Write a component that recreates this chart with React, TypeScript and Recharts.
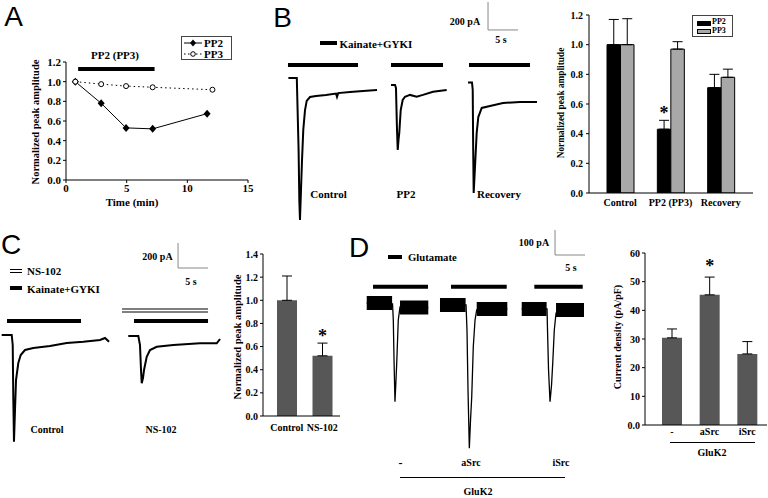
import React from 'react';
import { LineChart, Line, XAxis, YAxis, ReferenceLine, BarChart, Bar, ErrorBar, LabelList } from 'recharts';

const SERIF = '"Liberation Serif", "Times New Roman", serif';
const SANS = '"Liberation Sans", Arial, sans-serif';

// ---------- Panel A: time course ----------
const aTimePP2 = [0.77, 2.9, 4.95, 7.14, 11.63];
const aValPP2 = [1.0, 0.78, 0.53, 0.52, 0.675];
const aTimePP3 = [0.77, 2.9, 4.95, 7.14, 12.07];
const aValPP3 = [1.0, 0.975, 0.955, 0.943, 0.918];
const aXTicks = [0, 5, 10, 15];
const aYTicks = [0, 0.2, 0.4, 0.6, 0.8, 1.0, 1.2];
const aDrugStart = 1.0;
const aDrugEnd = 7.3;
const aDrugLevel = 1.13;

// ---------- Panel B: traces (t in s, i in pA) ----------
const bControlTrace = [
  { t: 1.4, i: 0 }, { t: 2.8, i: 0 }, { t: 3.1, i: -514 }, { t: 3.22, i: -871 }, { t: 3.33, i: -1014 },
  { t: 3.5, i: -800 }, { t: 3.67, i: -586 }, { t: 3.88, i: -371 }, { t: 4.17, i: -229 }, { t: 4.45, i: -164 },
  { t: 5.0, i: -136 }, { t: 6.0, i: -129 }, { t: 7.67, i: -121 }, { t: 9.33, i: -111 }, { t: 9.5, i: -135 },
  { t: 9.7, i: -108 }, { t: 11.67, i: -100 }, { t: 13.83, i: -93 }, { t: 16.17, i: -86 },
];
const bPP2Trace = [
  { t: 18.5, i: -50 }, { t: 19.17, i: -50 }, { t: 19.33, i: -71 }, { t: 19.5, i: -371 }, { t: 19.62, i: -514 },
  { t: 19.75, i: -443 }, { t: 19.88, i: -393 }, { t: 20.12, i: -229 }, { t: 20.45, i: -157 }, { t: 20.83, i: -134 },
  { t: 21.67, i: -121 }, { t: 22.78, i: -134 }, { t: 23.83, i: -121 }, { t: 25.5, i: -98 }, { t: 27.78, i: -86 },
];
const bRecoveryTrace = [
  { t: 31.33, i: -32 }, { t: 32.0, i: -32 }, { t: 32.12, i: -86 }, { t: 32.2, i: -514 }, { t: 32.28, i: -821 },
  { t: 32.5, i: -636 }, { t: 32.78, i: -393 }, { t: 33.05, i: -279 }, { t: 33.62, i: -214 }, { t: 35.0, i: -200 },
  { t: 37.17, i: -179 }, { t: 40.0, i: -171 }, { t: 42.83, i: -171 },
];
const bApplications = [[1.33, 13.0], [18.5, 27.17], [31.5, 41.67]];
const bApplicationLevel = 93;

// ---------- Panel B: bar chart ----------
const bCategories = ['Control', 'PP2 (PP3)', 'Recovery'];
const bPP2 = [1.0, 0.43, 0.71];
const bPP2Err = [0.17, 0.06, 0.09];
const bPP3 = [1.0, 0.97, 0.78];
const bPP3Err = [0.175, 0.05, 0.055];
const bSig = [false, true, false];
const bYTicks = [0, 0.2, 0.4, 0.6, 0.8, 1.0, 1.2];

// ---------- Panel C: traces ----------
const cControlTrace = [
  { t: 0.28, i: 0 }, { t: 1.95, i: 0 }, { t: 2.12, i: -80 }, { t: 2.22, i: -520 }, { t: 2.33, i: -854 },
  { t: 2.5, i: -600 }, { t: 2.67, i: -360 }, { t: 3.05, i: -224 }, { t: 3.45, i: -160 }, { t: 4.17, i: -120 },
  { t: 5.55, i: -104 }, { t: 8.33, i: -88 }, { t: 11.12, i: -64 }, { t: 13.88, i: -54 }, { t: 16.67, i: -40 },
  { t: 17.5, i: -24 }, { t: 18.17, i: -54 },
];
const cNSTrace = [
  { t: 21.38, i: -8 }, { t: 23.05, i: -8 }, { t: 23.33, i: -80 }, { t: 23.5, i: -280 }, { t: 23.62, i: -386 },
  { t: 23.83, i: -344 }, { t: 24.0, i: -280 }, { t: 24.45, i: -174 }, { t: 25.0, i: -120 }, { t: 26.12, i: -94 },
  { t: 28.88, i: -80 }, { t: 33.33, i: -66 }, { t: 36.12, i: -66 }, { t: 36.67, i: -32 },
];
const cApplications = [[1.17, 13.5], [22.33, 34.67]];
const cApplicationLevel = 112;
const cNSWindow = [20.33, 34.67];
const cNSLevels = [208, 184];

// ---------- Panel C: bar chart ----------
const cCategories = ['Control', 'NS-102'];
const cValues = [1.0, 0.52];
const cErr = [0.21, 0.11];
const cSig = [false, true];
const cYTicks = [0, 0.2, 0.4, 0.6, 0.8, 1.0, 1.2, 1.4];

// ---------- Panel D: traces ----------
const dTrace1 = [
  { t: 1.12, i: 4 }, { t: 5.42, i: 0 }, { t: 5.55, i: -64 }, { t: 5.67, i: -224 }, { t: 5.83, i: -391 },
  { t: 6.0, i: -304 }, { t: 6.12, i: -236 }, { t: 6.38, i: -64 }, { t: 6.67, i: -12 }, { t: 11.38, i: -14 },
];
const dTrace1Noise = [{ t: 1.12, i: 4 }, { t: 5.35, i: 4 }, { t: 6.0, i: null }, { t: 6.67, i: -14 }, { t: 11.38, i: -14 }];
const dTrace2 = [
  { t: 13.33, i: -4 }, { t: 17.67, i: -4 }, { t: 17.83, i: -104 }, { t: 18.0, i: -344 }, { t: 18.22, i: -577 },
  { t: 18.42, i: -464 }, { t: 18.62, i: -371 }, { t: 18.88, i: -171 }, { t: 19.17, i: -64 }, { t: 19.45, i: -24 },
  { t: 24.55, i: -20 },
];
const dTrace2Noise = [{ t: 13.33, i: -4 }, { t: 17.6, i: -4 }, { t: 18.5, i: null }, { t: 19.45, i: -20 }, { t: 24.55, i: -20 }];
const dTrace3 = [
  { t: 26.95, i: -20 }, { t: 31.17, i: -20 }, { t: 31.25, i: -104 }, { t: 31.42, i: -264 }, { t: 31.67, i: -391 },
  { t: 31.92, i: -324 }, { t: 32.12, i: -236 }, { t: 32.38, i: -104 }, { t: 32.67, i: -36 }, { t: 37.33, i: -24 },
];
const dTrace3Noise = [{ t: 26.95, i: -20 }, { t: 31.1, i: -20 }, { t: 31.9, i: null }, { t: 32.67, i: -24 }, { t: 37.33, i: -24 }];
const dApplications = [[2.17, 11.33], [15.17, 24.45], [29.05, 37.12]];
const dApplicationLevel = 69;

// ---------- Panel D: bar chart ----------
const dCategories = ['-', 'aSrc', 'iSrc'];
const dValues = [30.4, 45.4, 24.8];
const dErr = [3.1, 6.2, 4.3];
const dSig = [false, true, false];
const dYTicks = [0, 10, 20, 30, 40, 50, 60];

// ---------- helpers ----------
const tick = (size: number) => ({ fontSize: size, fontWeight: 'bold', fill: '#000', fontFamily: SERIF });

const T = ({ x, y, children, size = 11, anchor = 'middle', family = SERIF, weight = 'bold' }: any) => (
  <div
    style={{
      position: 'absolute', left: x, top: y, whiteSpace: 'nowrap', lineHeight: 1,
      transform: `translate(${anchor === 'middle' ? '-50%' : anchor === 'end' ? '-100%' : '0'}, -50%)`,
      fontSize: size, fontWeight: weight, fontFamily: family, color: '#000',
    }}
  >
    {children}
  </div>
);

const VT = ({ x, y, children, size = 10 }: any) => (
  <div
    style={{
      position: 'absolute', left: x, top: y, whiteSpace: 'nowrap', lineHeight: 1,
      transform: 'translate(-50%, -50%) rotate(-90deg)',
      fontSize: size, fontWeight: 'bold', fontFamily: SERIF, color: '#000',
    }}
  >
    {children}
  </div>
);

const HBar = ({ x1, x2, y, h = 4 }: any) => (
  <div style={{ position: 'absolute', left: x1, top: y - h / 2, width: x2 - x1, height: h, background: '#000' }} />
);

const Diamond = (p: any) => (
  <path
    key={`dm${p.index}`}
    d={`M${p.cx} ${p.cy - 4}L${p.cx + 3.5} ${p.cy}L${p.cx} ${p.cy + 4}L${p.cx - 3.5} ${p.cy}Z`}
    fill="#000"
  />
);

const starLabel = (vals: number[], errs: number[], sig: boolean[], dy: number) => (props: any) => {
  const { x, y, width, height, value } = props;
  let idx = props.index;
  if (idx === undefined || idx === null) idx = vals.indexOf(value);
  if (!sig[idx]) return null;
  const ppu = Number(height) / Number(value);
  const top = Number(y) - errs[idx] * ppu;
  return (
    <text
      key={`st${idx}`}
      x={Number(x) + Number(width) / 2}
      y={top - dy}
      textAnchor="middle"
      fontFamily={SERIF}
      fontWeight="bold"
      fontSize={18}
      fill="#000"
    >
      *
    </text>
  );
};

function TraceChart({ left, top, width, height, xMax, yDomain, traces, noise, traceWidth, apps, appLevel, extra, scale }: any) {
  return (
    <div style={{ position: 'absolute', left, top }}>
      <LineChart width={width} height={height} margin={{ top: 0, right: 0, bottom: 0, left: 0 }}>
        <XAxis type="number" dataKey="t" domain={[0, xMax]} hide allowDataOverflow />
        <YAxis type="number" domain={yDomain} hide allowDataOverflow />
        {apps.map((a: number[], k: number) => (
          <ReferenceLine key={`ap${k}`} segment={[{ x: a[0], y: appLevel }, { x: a[1], y: appLevel }]} stroke="#000" strokeWidth={4} />
        ))}
        {extra}
        <ReferenceLine segment={[{ x: scale.t, y: scale.i }, { x: scale.t, y: scale.i + scale.di }]} stroke="#888" strokeWidth={1} />
        <ReferenceLine segment={[{ x: scale.t, y: scale.i }, { x: scale.t + scale.dt, y: scale.i }]} stroke="#888" strokeWidth={1} />
        {noise &&
          noise.map((n: any[], k: number) => (
            <Line key={`nz${k}`} data={n} dataKey="i" type="linear" stroke="#000" strokeWidth={14} strokeLinecap="butt" dot={false} isAnimationActive={false} connectNulls={false} />
          ))}
        {traces.map((tr: any[], k: number) => (
          <Line key={`tr${k}`} data={tr} dataKey="i" type="linear" stroke="#000" strokeWidth={traceWidth} dot={false} isAnimationActive={false} />
        ))}
      </LineChart>
    </div>
  );
}

export default function App() {
  const aPP2Data = aTimePP2.map((t, k) => ({ t, v: aValPP2[k] }));
  const aPP3Data = aTimePP3.map((t, k) => ({ t, v: aValPP3[k] }));
  const bBarData = bCategories.map((c, k) => ({ c, pp2: bPP2[k], pp2e: [0, bPP2Err[k]], pp3: bPP3[k], pp3e: [0, bPP3Err[k]] }));
  const cBarData = cCategories.map((c, k) => ({ c, v: cValues[k], e: [0, cErr[k]] }));
  const dBarData = dCategories.map((c, k) => ({ c, v: dValues[k], e: [0, dErr[k]] }));
  const axisLine = { stroke: '#000', strokeWidth: 1 };

  return (
    <div style={{ position: 'absolute', left: 0, top: 0, width: 768, height: 498, background: '#fff', overflow: 'hidden' }}>
      {/* ---------------- A ---------------- */}
      <T x={13.5} y={17} size={28} family={SANS} weight="normal">A</T>
      <div style={{ position: 'absolute', left: 0, top: 0 }}>
        <LineChart width={260} height={215} margin={{ top: 62, right: 12, left: 0, bottom: 0 }}>
          <XAxis type="number" dataKey="t" domain={[0, 15]} ticks={aXTicks} height={35} tickSize={3} tickMargin={1} tick={tick(11)} axisLine={axisLine} tickLine={axisLine} />
          <YAxis type="number" domain={[0, 1.2]} ticks={aYTicks} width={66} tickSize={3} tickMargin={2} tick={tick(11)} tickFormatter={(v: number) => v.toFixed(1)} axisLine={axisLine} tickLine={axisLine} allowDataOverflow />
          <ReferenceLine segment={[{ x: aDrugStart, y: aDrugLevel }, { x: aDrugEnd, y: aDrugLevel }]} stroke="#000" strokeWidth={4} />
          <Line data={aPP2Data} dataKey="v" type="linear" stroke="#000" strokeWidth={1} dot={Diamond} isAnimationActive={false} />
          <Line data={aPP3Data} dataKey="v" type="linear" stroke="#000" strokeWidth={1} strokeDasharray="1.5 3" dot={{ r: 2.5, fill: '#fff', stroke: '#000', strokeWidth: 1, strokeDasharray: '' }} isAnimationActive={false} />
        </LineChart>
      </div>
      <T x={115} y={55} size={11}>PP2 (PP3)</T>
      <T x={132} y={202} size={11}>Time (min)</T>
      <VT x={36} y={122} size={10.5}>Normalized peak amplitude</VT>
      <div style={{ position: 'absolute', left: 181, top: 36, width: 51, height: 24, border: '1px solid #444', boxSizing: 'border-box' }}>
        <svg width={22} height={22} style={{ position: 'absolute', left: 1, top: 0 }}>
          <line x1={1} y1={6} x2={19} y2={6} stroke="#000" strokeWidth={1} />
          <path d="M10 2.5L13 6L10 9.5L7 6Z" fill="#000" />
          <line x1={1} y1={17} x2={19} y2={17} stroke="#000" strokeWidth={1} strokeDasharray="1.5 2.5" />
          <circle cx={10} cy={17} r={2.3} fill="#fff" stroke="#000" />
        </svg>
      </div>
      <T x={204} y={42.5} size={11} anchor="start">PP2</T>
      <T x={204} y={54} size={11} anchor="start">PP3</T>

      {/* ---------------- B ---------------- */}
      <T x={282.5} y={17.5} size={28} family={SANS} weight="normal">B</T>
      <TraceChart
        left={280} top={0} width={258} height={230} xMax={43} yDomain={[-1086, 557]}
        traces={[bControlTrace, bPP2Trace, bRecoveryTrace]} traceWidth={2}
        apps={bApplications} appLevel={bApplicationLevel}
        scale={{ t: 34.67, i: 343, di: 200, dt: 5 }}
      />
      <T x={465} y={22} size={10}>200 pA</T>
      <T x={501} y={40} size={10}>5 s</T>
      <HBar x1={320} x2={337} y={43.3} />
      <T x={339.5} y={43.5} size={11} anchor="start">Kainate+GYKI</T>
      <T x={328.5} y={194} size={11}>Control</T>
      <T x={406} y={194} size={11}>PP2</T>
      <T x={477} y={194} size={11} anchor="start">Recovery</T>

      <div style={{ position: 'absolute', left: 520, top: 0 }}>
        <BarChart width={248} height={215} data={bBarData} margin={{ top: 15, right: 15, left: 0, bottom: 0 }} barGap={0} barSize={13.5}>
          <XAxis dataKey="c" height={22} interval={0} tickLine={false} tickSize={0} tickMargin={6} padding={{ left: 6, right: 7 }} tick={tick(10)} axisLine={axisLine} />
          <YAxis type="number" domain={[0, 1.2]} ticks={bYTicks} width={69} tickSize={3} tickMargin={3} tick={tick(10)} tickFormatter={(v: number) => v.toFixed(1)} axisLine={axisLine} tickLine={axisLine} allowDataOverflow />
          <Bar dataKey="pp2" fill="#000" stroke="#000" strokeWidth={1} isAnimationActive={false}>
            <ErrorBar dataKey="pp2e" width={5} stroke="#000" strokeWidth={1} />
            <LabelList dataKey="pp2" content={starLabel(bPP2, bPP2Err, bSig, 1)} />
          </Bar>
          <Bar dataKey="pp3" fill="#a8a8a8" stroke="#000" strokeWidth={1} isAnimationActive={false}>
            <ErrorBar dataKey="pp3e" width={5} stroke="#000" strokeWidth={1} />
          </Bar>
        </BarChart>
      </div>
      <VT x={562} y={103} size={9.3}>Normalized peak amplitude</VT>
      <div style={{ position: 'absolute', left: 692, top: 15, width: 41, height: 22, border: '1px solid #444', boxSizing: 'border-box' }}>
        <div style={{ position: 'absolute', left: 4, top: 5, width: 12, height: 3, background: '#000', border: '1px solid #000' }} />
        <div style={{ position: 'absolute', left: 4, top: 13, width: 12, height: 3, background: '#a8a8a8', border: '1px solid #000' }} />
      </div>
      <T x={712} y={22} size={8} anchor="start">PP2</T>
      <T x={712} y={31} size={8} anchor="start">PP3</T>

      {/* ---------------- C ---------------- */}
      <T x={11} y={245} size={28} family={SANS} weight="normal">C</T>
      <TraceChart
        left={0} top={230} width={230} height={230} xMax={38.33} yDomain={[-1000, 840]}
        traces={[cControlTrace, cNSTrace]} traceWidth={2}
        apps={cApplications} appLevel={cApplicationLevel}
        extra={cNSLevels.map((lv, k) => (
          <ReferenceLine key={`ns${k}`} segment={[{ x: cNSWindow[0], y: lv }, { x: cNSWindow[1], y: lv }]} stroke="#000" strokeWidth={1.2} />
        ))}
        scale={{ t: 29.67, i: 536, di: 200, dt: 5 }}
      />
      <div style={{ position: 'absolute', left: 10, top: 268.5, width: 12, height: 2, borderTop: '1.2px solid #000', borderBottom: '1.2px solid #000' }} />
      <T x={27} y={270.7} size={11} anchor="start">NS-102</T>
      <HBar x1={10} x2={22} y={288.3} />
      <T x={27} y={288.5} size={11} anchor="start">Kainate+GYKI</T>
      <T x={157.5} y={256.7} size={10}>200 pA</T>
      <T x={191} y={281.7} size={10}>5 s</T>
      <T x={47} y={430} size={10}>Control</T>
      <T x={161} y={430} size={10}>NS-102</T>

      <div style={{ position: 'absolute', left: 200, top: 230 }}>
        <BarChart width={150} height={215} data={cBarData} margin={{ top: 24, right: 10, left: 0, bottom: 0 }} barSize={20}>
          <XAxis dataKey="c" height={29} interval={0} tickLine={false} tickSize={0} tickMargin={8} padding={{ left: 6, right: 0 }} tick={tick(10)} axisLine={axisLine} />
          <YAxis type="number" domain={[0, 1.4]} ticks={cYTicks} width={63} tickSize={3} tickMargin={2} tick={tick(10)} tickFormatter={(v: number) => v.toFixed(1)} axisLine={axisLine} tickLine={axisLine} allowDataOverflow />
          <Bar dataKey="v" fill="#575757" isAnimationActive={false}>
            <ErrorBar dataKey="e" width={5} stroke="#000" strokeWidth={1} />
            <LabelList dataKey="v" content={starLabel(cValues, cErr, cSig, 1)} />
          </Bar>
        </BarChart>
      </div>
      <VT x={238} y={337} size={10.5}>Normalized peak amplitude</VT>

      {/* ---------------- D ---------------- */}
      <T x={359} y={247.5} size={28} family={SANS} weight="normal">D</T>
      <TraceChart
        left={360} top={230} width={230} height={230} xMax={38.33} yDomain={[-624, 296]}
        traces={[dTrace1, dTrace2, dTrace3]} noise={[dTrace1Noise, dTrace2Noise, dTrace3Noise]} traceWidth={1.3}
        apps={dApplications} appLevel={dApplicationLevel}
        scale={{ t: 32.5, i: 196, di: 100, dt: 5 }}
      />
      <HBar x1={388} x2={402} y={256.5} />
      <T x={408} y={257} size={10.7} anchor="start">Glutamate</T>
      <T x={534} y={243.3} size={10}>100 pA</T>
      <T x={571} y={268.3} size={10}>5 s</T>
      <T x={400.5} y={463} size={12}>-</T>
      <T x={471} y={463} size={10}>aSrc</T>
      <T x={561} y={463} size={10}>iSrc</T>
      <div style={{ position: 'absolute', left: 400, top: 477, width: 165, height: 1, background: '#000' }} />
      <T x={478} y={492} size={10}>GluK2</T>

      <div style={{ position: 'absolute', left: 580, top: 230 }}>
        <BarChart width={188} height={230} data={dBarData} margin={{ top: 23, right: 1, left: 0, bottom: 0 }} barSize={20}>
          <XAxis dataKey="c" height={35} interval={0} tickLine={false} tickSize={0} tickMargin={3} padding={{ left: 8, right: 1 }} tick={tick(10)} axisLine={axisLine} />
          <YAxis type="number" domain={[0, 60]} ticks={dYTicks} width={65} tickSize={3} tickMargin={2} tick={tick(10)} tickFormatter={(v: number) => (v === 0 ? '0.0' : String(v))} axisLine={axisLine} tickLine={axisLine} allowDataOverflow />
          <Bar dataKey="v" fill="#575757" isAnimationActive={false}>
            <ErrorBar dataKey="e" width={5} stroke="#000" strokeWidth={1} />
            <LabelList dataKey="v" content={starLabel(dValues, dErr, dSig, 5)} />
          </Bar>
        </BarChart>
      </div>
      <VT x={618} y={337} size={10}>Current density (pA/pF)</VT>
      <div style={{ position: 'absolute', left: 670, top: 442, width: 85, height: 1, background: '#000' }} />
      <T x={712} y={453} size={10}>GluK2</T>
    </div>
  );
}
